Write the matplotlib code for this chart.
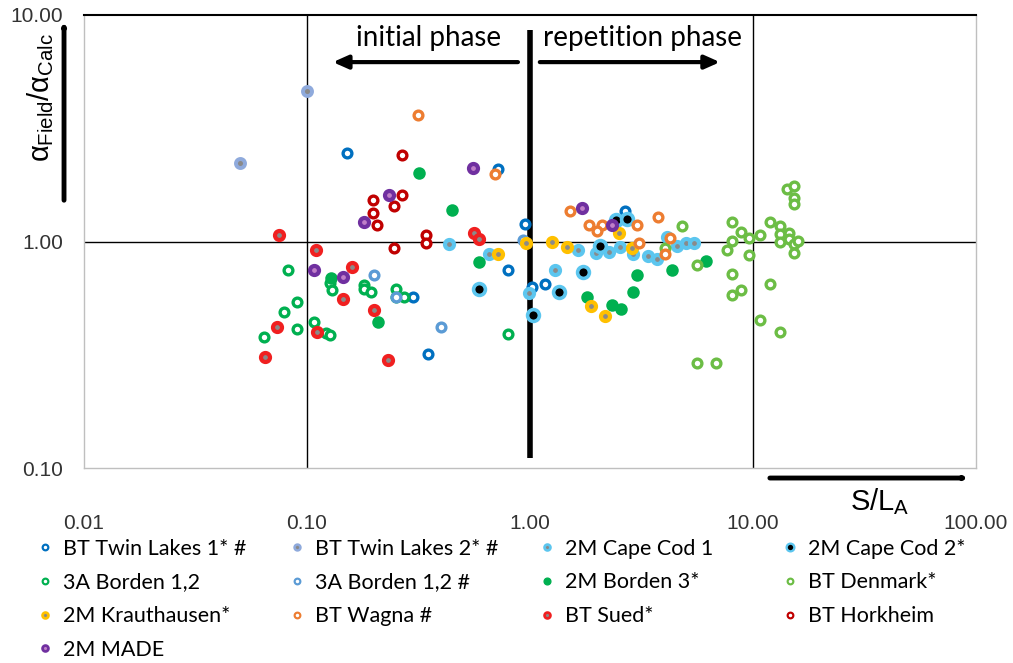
import numpy as np
import matplotlib
matplotlib.use("Agg")
import matplotlib.pyplot as plt
from matplotlib.lines import Line2D

plt.rcParams['font.family'] = ['Liberation Sans', 'DejaVu Sans']
plt.rcParams['mathtext.fontset'] = 'custom'
plt.rcParams['mathtext.rm'] = 'Liberation Sans'
plt.rcParams['mathtext.it'] = 'Liberation Sans'
plt.rcParams['mathtext.bf'] = 'Liberation Sans:bold'

# ---- data (S/L_A , alpha_field/alpha_calc) ----
tl1_x = [0.151, 0.72, 0.30, 0.35, 0.80, 1.02, 1.17, 2.67, 0.95]
tl1_y = [2.45, 2.10, 0.57, 0.32, 0.75, 0.63, 0.65, 1.37, 1.20]

tl2_x = [0.10, 0.05]
tl2_y = [4.6, 2.21]

cc1_x = [0.433, 0.655, 0.99, 1.295, 1.64, 1.98, 2.26, 2.53, 2.90, 3.38, 3.71, 4.12, 4.56, 5.0, 5.44]
cc1_y = [0.97, 0.885, 0.59, 0.75, 0.92, 0.894, 0.90, 0.95, 0.885, 0.867, 0.833, 1.05, 0.96, 0.98, 0.98]

cc2_x = [0.59, 1.03, 1.35, 1.73, 2.06, 2.43, 2.72]
cc2_y = [0.62, 0.476, 0.596, 0.737, 0.96, 1.24, 1.26]

b12_x = [0.082, 0.127, 0.13, 0.18, 0.18, 0.194, 0.25, 0.25, 0.272, 0.09, 0.079, 0.09,
         0.064, 0.1075, 0.122, 0.127, 0.797]
b12_y = [0.745, 0.653, 0.61, 0.64, 0.614, 0.596, 0.614, 0.566, 0.566, 0.543, 0.486, 0.41,
         0.377, 0.443, 0.396, 0.385, 0.39]

b12h_x = [0.20, 0.25, 0.40, 0.93]
b12h_y = [0.71, 0.57, 0.42, 1.02]

b3_x = [0.318, 0.447, 0.128, 0.208, 0.59, 1.80, 2.33, 2.56, 2.90, 3.02, 4.33, 6.15]
b3_y = [2.0, 1.38, 0.69, 0.44, 0.81, 0.566, 0.527, 0.506, 0.596, 0.71, 0.745, 0.82]

dk_x = [4.80, 4.03, 5.61, 8.05, 8.84, 8.05, 7.65, 9.60, 10.75, 9.60, 11.9, 13.2, 13.2, 14.5,
        14.5, 13.2, 15.3, 15.9, 15.3, 14.2, 15.3, 15.3, 15.3, 8.05, 8.84, 8.05, 11.9, 10.75,
        13.2, 5.61, 6.83]
dk_y = [1.165, 0.94, 0.784, 1.225, 1.10, 1.01, 0.92, 1.04, 1.07, 0.87, 1.225, 1.165, 1.074, 1.085,
        1.03, 0.99, 0.97, 1.01, 0.894, 1.71, 1.75, 1.56, 1.47, 0.715, 0.61, 0.583, 0.646, 0.448,
        0.40, 0.292, 0.292]

kr_x = [0.72, 0.96, 1.255, 1.47, 2.51, 2.87, 1.88, 2.17]
kr_y = [0.885, 0.98, 0.99, 0.95, 1.085, 0.94, 0.52, 0.47]

wa_x = [0.315, 0.70, 1.51, 1.84, 2.10, 2.00, 3.02, 3.75, 4.24, 3.08, 4.03]
wa_y = [3.6, 1.98, 1.36, 1.18, 1.18, 1.11, 1.18, 1.28, 1.04, 0.98, 0.885]

su_x = [0.075, 0.11, 0.159, 0.145, 0.20, 0.073, 0.111, 0.065, 0.23, 0.56, 0.59]
su_y = [1.07, 0.92, 0.77, 0.555, 0.50, 0.42, 0.40, 0.31, 0.30, 1.085, 1.03]

hk_x = [0.267, 0.267, 0.198, 0.245, 0.198, 0.206, 0.342, 0.342, 0.245]
hk_y = [2.40, 1.60, 1.53, 1.44, 1.33, 1.18, 1.07, 0.98, 0.94]

md_x = [0.233, 0.18, 0.1075, 0.145, 0.555, 1.71, 2.33]
md_y = [1.61, 1.225, 0.745, 0.70, 2.12, 1.40, 1.18]

# ---- series styles: (label, x, y, edge colour, face colour, size, edge width) ----
GREY = '#8a8a8a'
SKY = '#5cc6ef'
SERIES = [
    ('BT Twin Lakes 1* #', tl1_x, tl1_y, '#0070C0', 'white', 6.3, 2.4),
    ('BT Twin Lakes 2* #', tl2_x, tl2_y, '#8FAADC', GREY, 6.5, 2.8),
    ('2M Cape Cod 1', cc1_x, cc1_y, SKY, GREY, 6.5, 3.0),
    ('2M Cape Cod 2*', cc2_x, cc2_y, SKY, 'black', 8.5, 2.6),
    ('3A Borden 1,2', b12_x, b12_y, '#00B050', 'white', 6.3, 2.4),
    ('3A Borden 1,2 #', b12h_x, b12h_y, '#5B9BD5', 'white', 6.3, 2.4),
    ('2M Borden 3*', b3_x, b3_y, '#00B050', '#00B050', 7.5, 1.5),
    ('BT Denmark*', dk_x, dk_y, '#6CBD45', 'white', 6.3, 2.4),
    ('2M Krauthausen*', kr_x, kr_y, '#FFC000', GREY, 6.5, 3.0),
    ('BT Wagna #', wa_x, wa_y, '#ED7D31', 'white', 6.3, 2.4),
    ('BT Sued*', su_x, su_y, '#F02020', GREY, 6.5, 3.0),
    ('BT Horkheim', hk_x, hk_y, '#C00000', 'white', 6.3, 2.4),
    ('2M MADE', md_x, md_y, '#7030A0', '#C080C8', 6.5, 3.0),
]

fig = plt.figure(figsize=(10.13, 6.63), dpi=100)
ax = fig.add_axes([84 / 1013, 1 - 468 / 663, 892 / 1013, 453 / 663])
ax.set_xscale('log')
ax.set_yscale('log')
ax.set_xlim(0.01, 100)
ax.set_ylim(0.1, 10)

# reference lines
ax.axvline(0.1, color='black', lw=1, zorder=1)
ax.axvline(10, color='black', lw=1, zorder=1)
ax.axhline(1, color='black', lw=1, zorder=1)
ax.vlines(1, 0.111, 8.6, color='black', lw=4, zorder=2)

handles = []
for label, xs, ys, ec, fc, ms, mew in SERIES:
    ax.plot(xs, ys, ls='none', marker='o', ms=ms, mew=mew, mec=ec, mfc=fc, zorder=3)
    handles.append(Line2D([], [], ls='none', marker='o', ms=ms * 0.65, mew=mew * 0.65,
                          mec=ec, mfc=fc, label=label))

for side in ['left', 'bottom', 'right']:
    ax.spines[side].set_color('#BFBFBF')
    ax.spines[side].set_linewidth(1)
ax.spines['top'].set_color('black')
ax.spines['top'].set_linewidth(1.5)

ax.minorticks_off()
ax.set_xticks([0.01, 0.1, 1, 10, 100])
ax.set_xticklabels(['0.01', '0.10', '1.00', '10.00', '100.00'])
ax.set_yticks([0.1, 1, 10])
ax.set_yticklabels(['0.10', '1.00', '10.00'])
ax.tick_params(axis='x', length=0, pad=33, labelsize=15, colors='#333333')
ax.tick_params(axis='y', length=0, pad=15, labelsize=15, colors='#333333')

# phase annotations
ax.text(0.386, 0.95, 'initial phase', transform=ax.transAxes, ha='center', va='center',
        fontsize=20, family='Lato')
ax.text(0.6256, 0.95, 'repetition phase', transform=ax.transAxes, ha='center', va='center',
        fontsize=20, family='Lato')
arrow = dict(arrowstyle='-|>,head_length=0.9,head_width=0.4', lw=3, color='black',
             shrinkA=0, shrinkB=0)
ax.annotate('', xy=(0.279, 0.896), xytext=(0.4865, 0.896), xycoords='axes fraction',
            arrowprops=arrow)
ax.annotate('', xy=(0.713, 0.896), xytext=(0.511, 0.896), xycoords='axes fraction',
            arrowprops=arrow)

# axis titles with arrows
fig.patches.append(matplotlib.patches.FancyArrowPatch(
    (0.0632, 0.698), (0.0632, 0.967), transform=fig.transFigure,
    arrowstyle='-|>,head_length=0.9,head_width=0.45', lw=3.5, color='black',
    shrinkA=0, shrinkB=0))
fig.text(0.040, 0.853, r'$\alpha_{\mathrm{Field}}/\alpha_{\mathrm{Calc}}$', rotation=90,
         ha='center', va='center', fontsize=21)
fig.patches.append(matplotlib.patches.FancyArrowPatch(
    (0.760, 0.279), (0.9556, 0.279), transform=fig.transFigure,
    arrowstyle='-|>,head_length=0.9,head_width=0.45', lw=3.5, color='black',
    shrinkA=0, shrinkB=0))
fig.text(0.8687, 0.244, r'$\mathrm{S/L_A}$', ha='center', va='center', fontsize=21)

# legend, one block per column
cols = [[0, 4, 8, 12], [1, 5, 9], [2, 6, 10], [3, 7, 11]]
lefts = [0.0366, 0.2855, 0.532, 0.772]
for idx, left in zip(cols, lefts):
    fig.legend(handles=[handles[i] for i in idx], loc='upper left',
               bbox_to_anchor=(left, 0.1875), frameon=False, borderpad=0,
               borderaxespad=0, handlelength=0.75, handletextpad=0.45,
               labelspacing=0.64, prop={'family': 'Lato', 'size': 15.5})

fig.savefig('out.png', dpi=100)
